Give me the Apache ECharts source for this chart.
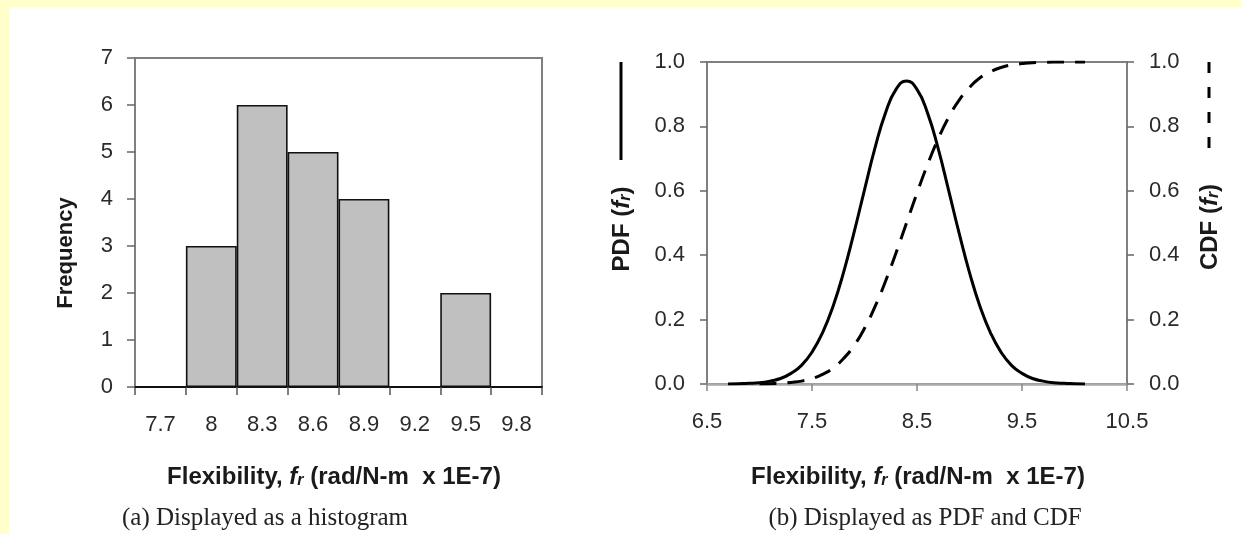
<!DOCTYPE html>
<html>
<head>
<meta charset="utf-8">
<script src="https://cdn.jsdelivr.net/npm/echarts@6/dist/echarts.min.js"></script>
<style>
html,body{margin:0;padding:0;background:#ffffcc;}
#main{position:absolute;left:0;top:0;width:1241px;height:534px;}
</style>
</head>
<body>
<div id="main"></div>
<script>
// ---- data ----
const histBins = ['7.7', '8', '8.3', '8.6', '8.9', '9.2', '9.5', '9.8'];
const histCounts = [0, 3, 6, 5, 4, 0, 2, 0];

const curveX = [6.7, 6.8, 6.9, 7.0, 7.1, 7.2, 7.3, 7.4, 7.5, 7.6, 7.7, 7.8, 7.9, 8.0, 8.1, 8.2, 8.3, 8.4,
                8.5, 8.6, 8.7, 8.8, 8.9, 9.0, 9.1, 9.2, 9.3, 9.4, 9.5, 9.6, 9.7, 9.8, 9.9, 10.0, 10.1];
const pdfValues = [0.000, 0.001, 0.002, 0.004, 0.009, 0.017, 0.033, 0.058, 0.099, 0.159, 0.241, 0.346, 0.470, 0.603, 0.733, 0.842, 0.915, 0.941,
                   0.915, 0.842, 0.733, 0.603, 0.470, 0.346, 0.241, 0.159, 0.099, 0.058, 0.033, 0.017, 0.009, 0.004, 0.002, 0.001, 0.000];
const cdfValues = [null, null, null, 0.000, 0.001, 0.002, 0.005, 0.009, 0.017, 0.030, 0.049, 0.079, 0.119, 0.173, 0.240, 0.319, 0.407, 0.500,
                   0.593, 0.681, 0.760, 0.827, 0.881, 0.921, 0.951, 0.970, 0.983, 0.991, 0.995, 0.998, 0.999, 1.000, 1.000, 1.000, 1.000];

const xNameText = 'Flexibility, {i|f}{s|r} (rad/N-m  x 1E-7)';
const captionA = '(a) Displayed as a histogram';
const captionB = '(b) Displayed as PDF and CDF';

// ---- chart ----
const SANS = '"Liberation Sans", Arial, sans-serif';
const SERIF = '"Liberation Serif", "Times New Roman", serif';
const chart = echarts.init(document.getElementById('main'), null, {renderer: 'canvas'});

const labelStyle = {color: '#2a2a2a', fontSize: 22, fontFamily: SANS};

function richFor(size) {
  return {
    i: {fontStyle: 'italic', fontWeight: 'bold', fontSize: size, fontFamily: SANS, fill: '#1a1a1a', color: '#1a1a1a'},
    s: {fontStyle: 'italic', fontWeight: 'bold', fontSize: Math.round(size * 0.65), fontFamily: SANS, verticalAlign: 'bottom', lineHeight: Math.round(size * 0.65), fill: '#1a1a1a', color: '#1a1a1a'}
  };
}

function nameText(x, y, text, rotate, size) {
  return {
    type: 'text', x: x, y: y, rotation: rotate ? Math.PI / 2 : 0,
    style: {
      text: text, rich: richFor(size), fill: '#1a1a1a',
      font: 'bold ' + size + 'px ' + SANS, align: 'center', verticalAlign: 'middle'
    }
  };
}

const option = {
  backgroundColor: 'transparent',
  animation: false,
  grid: [
    {left: 135, top: 58, width: 407, height: 329, show: true, borderColor: '#808080', borderWidth: 2, backgroundColor: 'transparent', containLabel: false},
    {left: 707, top: 62, width: 420, height: 322, show: true, borderColor: '#808080', borderWidth: 2, backgroundColor: 'transparent', containLabel: false}
  ],
  xAxis: [
    {
      gridIndex: 0, type: 'category', data: histBins, boundaryGap: true,
      axisLine: {lineStyle: {color: '#111', width: 2}},
      axisTick: {show: true, length: 8, interval: 0, lineStyle: {color: '#555', width: 1.5}},
      axisLabel: Object.assign({margin: 27, interval: 0}, labelStyle),
      splitLine: {show: false}
    },
    {
      gridIndex: 1, type: 'value', min: 6.5, max: 10.5, interval: 1,
      axisLine: {onZero: false, lineStyle: {color: '#aaa', width: 2.5}},
      axisTick: {show: true, length: 7, lineStyle: {color: '#888', width: 1.5}},
      axisLabel: Object.assign({margin: 27, formatter: v => v.toFixed(1)}, labelStyle),
      splitLine: {show: false}
    }
  ],
  yAxis: [
    {
      gridIndex: 0, type: 'value', min: 0, max: 7, interval: 1,
      axisLine: {show: true, lineStyle: {color: '#808080', width: 2}},
      axisTick: {show: true, length: 8, lineStyle: {color: '#666', width: 1.5}},
      axisLabel: Object.assign({margin: 22}, labelStyle),
      splitLine: {show: false}
    },
    {
      gridIndex: 1, type: 'value', min: 0, max: 1, interval: 0.2, position: 'left',
      axisLine: {show: true, lineStyle: {color: '#808080', width: 2}},
      axisTick: {show: true, length: 7, lineStyle: {color: '#666', width: 1.5}},
      axisLabel: Object.assign({margin: 22, formatter: v => v.toFixed(1)}, labelStyle),
      splitLine: {show: false}
    },
    {
      gridIndex: 1, type: 'value', min: 0, max: 1, interval: 0.2, position: 'right',
      axisLine: {show: true, lineStyle: {color: '#808080', width: 2}},
      axisTick: {show: true, length: 7, lineStyle: {color: '#666', width: 1.5}},
      axisLabel: Object.assign({margin: 22, formatter: v => v.toFixed(1)}, labelStyle),
      splitLine: {show: false}
    }
  ],
  series: [
    {
      type: 'bar', xAxisIndex: 0, yAxisIndex: 0, data: histCounts,
      barCategoryGap: '0%',
      itemStyle: {color: '#c0c0c0', borderColor: '#111', borderWidth: 1.6}
    },
    {
      type: 'line', xAxisIndex: 1, yAxisIndex: 1,
      data: curveX.map((x, i) => [x, pdfValues[i]]),
      smooth: true, showSymbol: false,
      lineStyle: {color: '#000', width: 3}
    },
    {
      type: 'line', xAxisIndex: 1, yAxisIndex: 2,
      data: curveX.map((x, i) => [x, cdfValues[i]]),
      smooth: true, showSymbol: false, connectNulls: false,
      lineStyle: {color: '#000', width: 3, type: [17, 11]}
    }
  ],
  graphic: [
    {type: 'rect', z: -10, shape: {x: 9, y: 7, width: 1232, height: 527}, style: {fill: '#ffffff'}, silent: true},
    nameText(66, 253, 'Frequency', true, 22),
    nameText(334, 477, xNameText, false, 24),
    {type: 'text', x: 122, y: 518, style: {text: captionA, font: '25px ' + SERIF, fill: '#222', align: 'left', verticalAlign: 'middle'}},
    nameText(622, 229, 'PDF ({i|f}{s|r})', true, 24),
    {type: 'line', shape: {x1: 621, y1: 62, x2: 621, y2: 160}, style: {stroke: '#000', lineWidth: 3}},
    nameText(1210, 227, 'CDF ({i|f}{s|r})', true, 24),
    {type: 'line', shape: {x1: 1209, y1: 62, x2: 1209, y2: 156}, style: {stroke: '#000', lineWidth: 3, lineDash: [11, 14]}},
    nameText(918, 477, xNameText, false, 24),
    {type: 'text', x: 925, y: 518, style: {text: captionB, font: '25px ' + SERIF, fill: '#222', align: 'center', verticalAlign: 'middle'}}
  ]
};
chart.setOption(option);
</script>
</body>
</html>
